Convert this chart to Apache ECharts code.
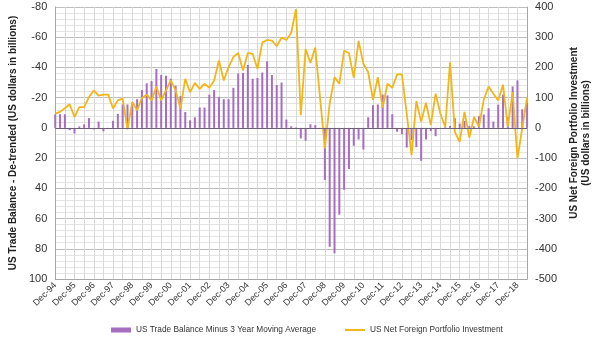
<!DOCTYPE html>
<html><head><meta charset="utf-8">
<script src="https://cdn.jsdelivr.net/npm/echarts@6/dist/echarts.min.js"></script>
<style>html,body{margin:0;padding:0;background:#fff}#c{width:600px;height:337px}</style>
</head><body><div id="c"></div>
<script>
const categories = [
"Dec-94","Mar-95","Jun-95","Sep-95","Dec-95","Mar-96","Jun-96","Sep-96","Dec-96","Mar-97","Jun-97","Sep-97",
"Dec-97","Mar-98","Jun-98","Sep-98","Dec-98","Mar-99","Jun-99","Sep-99","Dec-99","Mar-00","Jun-00","Sep-00",
"Dec-00","Mar-01","Jun-01","Sep-01","Dec-01","Mar-02","Jun-02","Sep-02","Dec-02","Mar-03","Jun-03","Sep-03",
"Dec-03","Mar-04","Jun-04","Sep-04","Dec-04","Mar-05","Jun-05","Sep-05","Dec-05","Mar-06","Jun-06","Sep-06",
"Dec-06","Mar-07","Jun-07","Sep-07","Dec-07","Mar-08","Jun-08","Sep-08","Dec-08","Mar-09","Jun-09","Sep-09",
"Dec-09","Mar-10","Jun-10","Sep-10","Dec-10","Mar-11","Jun-11","Sep-11","Dec-11","Mar-12","Jun-12","Sep-12",
"Dec-12","Mar-13","Jun-13","Sep-13","Dec-13","Mar-14","Jun-14","Sep-14","Dec-14","Mar-15","Jun-15","Sep-15",
"Dec-15","Mar-16","Jun-16","Sep-16","Dec-16","Mar-17","Jun-17","Sep-17","Dec-17","Mar-18","Jun-18","Sep-18",
"Dec-18","Mar-19","Jun-19"];

// US Trade Balance minus 3-year moving average (left axis, inverted)
const tradeBalance = [
-9,-9,-9,1.5,3.7,-1,-2.3,-6.5,1,-4.2,
2.3,0.7,-4.7,-9.3,-15.5,-15.5,-16,-19,-25,-29.5,
-31,-39,-35,-34.5,-32.5,-28,-21,-10.5,-5,-7,
-13.5,-13.5,-22,-25,-20.5,-19,-19,-26.5,-36,-36.4,
-41.7,-32.5,-33,-36.6,-44,-35,-28.3,-30,-5.5,-1,
-0.3,7,8.5,-2.4,-1.8,0.5,34.4,78.7,83,57.4,
41,27.2,11.8,7.7,14.3,-7,-15,-15.5,-22,-21.5,
-9,2.6,4.2,13,8,12.7,21.8,7.7,2.2,5.5,
0.5,-0.5,-1.3,-6.4,-2.8,-4.6,-1.3,-1,-7.7,-8.8,
-13,-4.2,-15.4,-22,-7.2,-27.4,-31.4,-12.3,-16.4];

// US Net Foreign Portfolio Investment (right axis)
const portfolioInvestment = [
47,53,65,78,36,69,69,102,124,107,
110,110,64,91,97,-5,86,58,99,110,
91,137,91,124,157,124,64,162,118,149,
129,146,133,157,223,157,201,234,248,190,
248,245,195,283,291,289,270,299,291,314,
393,42,261,215,266,100,-68,80,168,146,
256,247,166,288,212,184,93,168,67,146,
133,177,177,47,-90,89,20,83,9,113,
47,3,217,-13,-46,53,-32,36,3,93,
137,113,91,143,3,118,-101,0,100];

const leftAxisRange = [-80, 100, 20];
const rightAxisRange = [-500, 400, 100];
const seriesNames = ["US Trade Balance Minus 3 Year Moving Average", "US Net Foreign Portfolio Investment"];
const axisNames = ["US Trade Balance - De-trended (US dollars in billions)", "US Net Foreign Portfolio Investment\n(US dollars in billions)"];

const FONT = "Liberation Sans, Arial, sans-serif";
const chart = echarts.init(document.getElementById('c'), null, {renderer: 'canvas'});
chart.setOption({
  animation: false,
  backgroundColor: '#fff',
  textStyle: {fontFamily: FONT},
  grid: {left: 54, right: 69, top: 7, bottom: 58, containLabel: false},
  legend: {
    data: [
      {name: seriesNames[0], icon: 'rect'},
      {name: seriesNames[1], itemStyle: {opacity: 0}, lineStyle: {width: 2}}
    ],
    left: 106, top: 321, itemWidth: 20, itemHeight: 5, itemGap: 28,
    textStyle: {fontSize: 8.3, color: '#333', fontFamily: FONT}
  },
  xAxis: {
    type: 'category', data: categories, boundaryGap: false,
    axisLine: {show: true, onZero: false, lineStyle: {color: '#a6a6a6'}},
    axisTick: {show: false},
    axisLabel: {interval: 3, rotate: 45, fontSize: 9, color: '#333', margin: 5, fontFamily: FONT},
    splitLine: {show: true, interval: 1, lineStyle: {color: '#d9d9d9', width: 1}}
  },
  yAxis: [{
    type: 'value', inverse: true, min: leftAxisRange[0], max: leftAxisRange[1], interval: leftAxisRange[2],
    position: 'left',
    name: axisNames[0], nameLocation: 'middle', nameGap: 31,
    nameTextStyle: {fontSize: 10, fontWeight: 'bold', color: '#222', fontFamily: FONT},
    axisLine: {show: true, lineStyle: {color: '#a6a6a6'}},
    axisTick: {show: false},
    axisLabel: {fontSize: 11, color: '#333', margin: 8, fontFamily: FONT},
    splitLine: {show: true, lineStyle: {color: '#bdbdbd'}},
    minorTick: {show: false, splitNumber: 5},
    minorSplitLine: {show: true, lineStyle: {color: '#e4e4e4'}}
  }, {
    type: 'value', min: rightAxisRange[0], max: rightAxisRange[1], interval: rightAxisRange[2],
    position: 'right',
    name: axisNames[1], nameLocation: 'middle', nameGap: 38,
    nameTextStyle: {fontSize: 10, fontWeight: 'bold', color: '#222', lineHeight: 12, fontFamily: FONT, padding: [0, 0, 0, 20]},
    axisLine: {show: true, lineStyle: {color: '#a6a6a6'}},
    axisTick: {show: false},
    axisLabel: {fontSize: 11, color: '#333', margin: 8, fontFamily: FONT},
    splitLine: {show: false}
  }],
  series: [{
    name: seriesNames[0], type: 'bar', yAxisIndex: 0, data: tradeBalance,
    barWidth: 2, itemStyle: {color: '#a66dc0'},
    markLine: {
      silent: true, symbol: 'none', label: {show: false},
      lineStyle: {color: '#6e5f78', width: 1, type: 'solid'},
      data: [{yAxis: 0}]
    }
  }, {
    name: seriesNames[1], type: 'line', yAxisIndex: 1, data: portfolioInvestment,
    symbol: 'none', lineStyle: {color: '#f2b618', width: 1.8}, itemStyle: {color: '#f2b618'}
  }]
});
</script></body></html>
